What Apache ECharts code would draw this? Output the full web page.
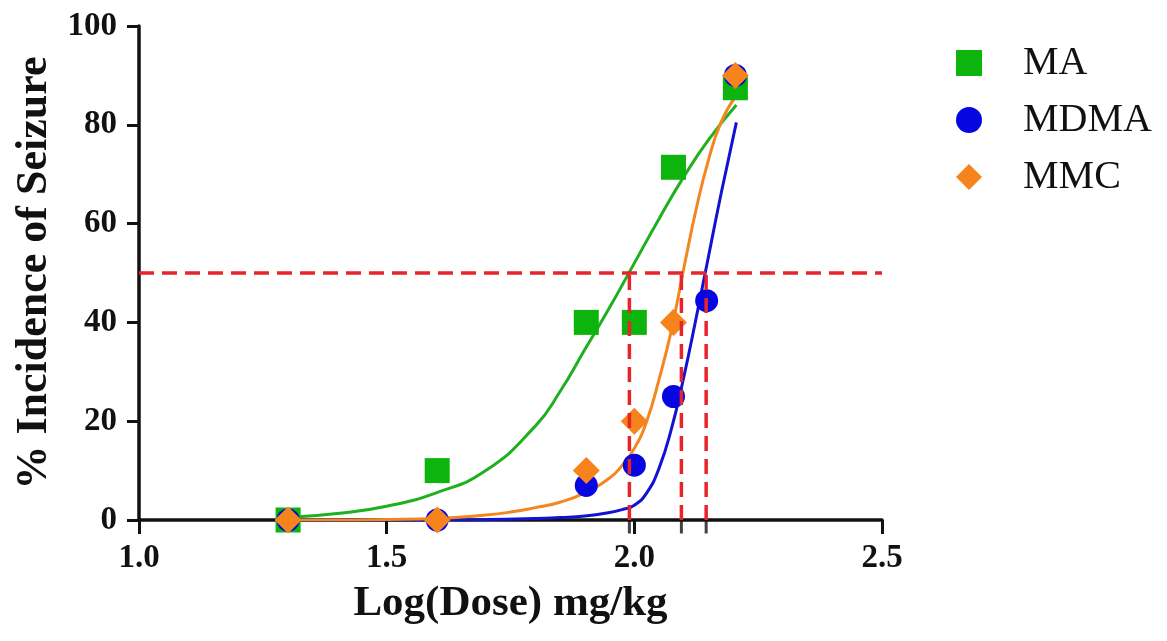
<!DOCTYPE html>
<html>
<head>
<meta charset="utf-8">
<script src="https://cdn.jsdelivr.net/npm/echarts@6/dist/echarts.min.js"></script>
<style>
  html, body { margin: 0; padding: 0; background: #fff; }
  #chart { width: 1167px; height: 641px; }
</style>
</head>
<body>
<div id="chart"></div>
<script>
// measured points: [log dose, % incidence]
var maPoints   = [[1.301, 0], [1.602, 10], [1.903, 40], [2.0, 40], [2.079, 71.4], [2.204, 87.5]];
var mdmaPoints = [[1.301, 0], [1.602, 0], [1.903, 7], [2.0, 11.1], [2.079, 25], [2.146, 44.4], [2.204, 90]];
var mmcPoints  = [[1.301, 0], [1.602, 0], [1.903, 10], [2.0, 20], [2.079, 40], [2.204, 90]];

// fitted curves
var maCurve   = [[1.30, 0.5], [1.40, 1.3], [1.50, 2.8], [1.60, 5.5], [1.70, 10], [1.80, 19], [1.85, 26],
                 [1.90, 34.5], [1.95, 43], [2.00, 52], [2.05, 61], [2.10, 69.5], [2.15, 77], [2.206, 84]];
var mdmaCurve = [[1.30, 0], [1.50, 0], [1.70, 0.1], [1.80, 0.3], [1.85, 0.5], [1.90, 0.8], [1.95, 1.5],
                 [1.975, 2.1], [2.00, 3], [2.025, 5.5], [2.05, 10.5], [2.075, 18.5], [2.10, 29], [2.125, 41],
                 [2.15, 53.5], [2.175, 66], [2.206, 80.5]];
var mmcCurve  = [[1.30, 0], [1.40, 0], [1.50, 0.1], [1.60, 0.3], [1.70, 1], [1.75, 1.6], [1.80, 2.5],
                 [1.85, 3.6], [1.90, 5.5], [1.95, 8.5], [1.975, 11], [2.00, 14.5], [2.025, 20], [2.05, 28.5],
                 [2.075, 38.5], [2.10, 51], [2.125, 63], [2.15, 73], [2.175, 80.5], [2.206, 86]];

// log EC50 guide lines
var ec50 = [1.99, 2.095, 2.145];
var halfLevel = 50;

var xTicks = [1.0, 2.5];   // axis range
var yTicks = [0, 100];

var chart = echarts.init(document.getElementById('chart'));

var serif = 'Liberation Serif';
var red = '#e8242b';
var dashed = { color: red, width: 3.5, type: [15, 8] };

function curve(name, data, color) {
    return {
        name: name, type: 'line', data: data, smooth: 0.5,
        symbol: 'none', silent: true, z: 2,
        lineStyle: { color: color, width: 3 }
    };
}

function dots(name, data, symbol, size, color, z) {
    return {
        name: name, type: 'scatter', data: data, symbol: symbol, symbolSize: size, z: z,
        itemStyle: { color: color, opacity: 1 }
    };
}

var series = [
    curve('MA fit', maCurve, '#1fb01f'),
    curve('MDMA fit', mdmaCurve, '#1212d4'),
    curve('MMC fit', mmcCurve, '#f3861f'),
    dots('MA', maPoints, 'rect', 25, '#0db40d', 3),
    dots('MDMA', mdmaPoints, 'circle', 23, '#0606e0', 4),
    dots('MMC', mmcPoints, 'diamond', 27, '#f7831c', 5),
    {
        name: 'half', type: 'line', symbol: 'none', silent: true, z: 6,
        data: [[xTicks[0], halfLevel], [xTicks[1], halfLevel]],
        lineStyle: dashed
    }
];

ec50.forEach(function (x, i) {
    series.push({
        name: 'ec50_' + i, type: 'line', symbol: 'none', silent: true, z: 6,
        data: [[x, yTicks[0]], [x, halfLevel]],
        lineStyle: dashed
    });
});

// small black ticks under the guide lines
series.push({
    name: 'ec50 ticks', type: 'scatter', silent: true, z: 7,
    data: ec50.map(function (x) { return [x, 0]; }),
    symbol: 'rect', symbolSize: [3, 13], symbolOffset: [0, 7],
    itemStyle: { color: '#111' }
});

var option = {
    animation: false,
    grid: { left: 139, right: 285, top: 26, bottom: 121 },
    legend: {
        data: ['MA', 'MDMA', 'MMC'],
        orient: 'vertical',
        left: 951, top: 38,
        itemWidth: 26, itemHeight: 26, itemGap: 17,
        selectedMode: false,
        textStyle: { fontFamily: serif, fontSize: 40, color: '#111', lineHeight: 40, padding: [0, 0, 0, 36] }
    },
    xAxis: {
        type: 'value', min: xTicks[0], max: xTicks[1], interval: 0.5,
        name: 'Log(Dose) mg/kg', nameLocation: 'middle', nameGap: 62,
        nameTextStyle: { fontFamily: serif, fontWeight: 'bold', fontSize: 43, color: '#111' },
        axisLine: { lineStyle: { color: '#111', width: 3.5 } },
        axisTick: { show: true, length: 14, lineStyle: { color: '#111', width: 3 } },
        axisLabel: {
            margin: 22, fontFamily: serif, fontWeight: 'bold', fontSize: 33, color: '#111',
            formatter: function (v) { return v.toFixed(1); }
        },
        splitLine: { show: false }
    },
    yAxis: {
        type: 'value', min: yTicks[0], max: yTicks[1], interval: 20,
        name: '% Incidence of Seizure', nameLocation: 'middle', nameGap: 82,
        nameTextStyle: { fontFamily: serif, fontWeight: 'bold', fontSize: 44, color: '#111' },
        axisLine: { show: true, lineStyle: { color: '#111', width: 3.5 } },
        axisTick: { show: true, length: 12, lineStyle: { color: '#111', width: 3 } },
        axisLabel: { margin: 22, fontFamily: serif, fontWeight: 'bold', fontSize: 33, color: '#111' },
        splitLine: { show: false }
    },
    series: series
};

chart.setOption(option);
</script>
</body>
</html>
